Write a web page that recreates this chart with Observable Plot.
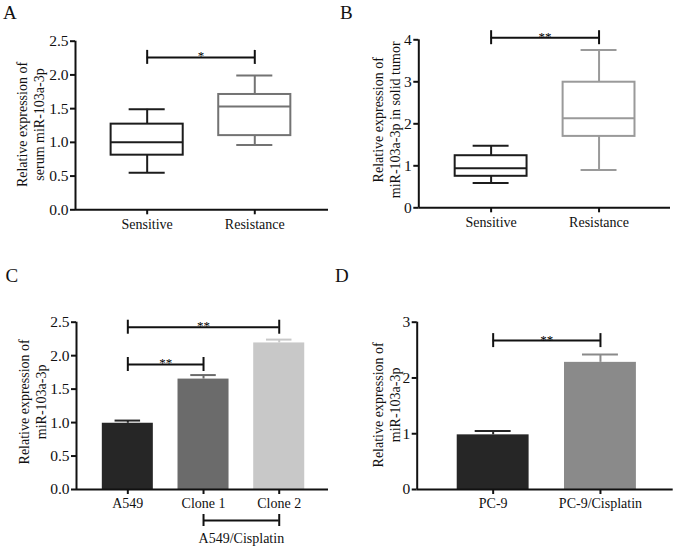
<!DOCTYPE html>
<html><head><meta charset="utf-8">
<script src="https://cdn.jsdelivr.net/npm/d3@7"></script>
<script src="https://cdn.jsdelivr.net/npm/@observablehq/plot@0.6"></script>
<style>
body{margin:0;background:#fff;}
#fig{position:relative;width:677px;height:548px;font-family:'Liberation Serif','Times New Roman',serif;overflow:hidden;}
.panel{position:absolute;}
.letter{position:absolute;font-size:19px;line-height:1;color:#111;}
</style></head><body><div id="fig"></div>
<script>
// ---------- Panel A (serum) ----------
const catsAB = ["Sensitive", "Resistance"];
const aMin = [0.55, 0.96];
const aQ1 = [0.81, 1.10];
const aMed = [1.00, 1.53];
const aQ3 = [1.27, 1.71];
const aMax = [1.49, 1.99];
const aColors = ["#1c1c1c", "#737373"];
const aTicks = [0, 0.5, 1.0, 1.5, 2.0, 2.5];
const aSig = [{x1: 0, x2: 1, y: 2.26, label: "*"}];

// ---------- Panel B (solid tumor) ----------
const bMin = [0.59, 0.90];
const bQ1 = [0.75, 1.70];
const bMed = [0.94, 2.13];
const bQ3 = [1.24, 2.99];
const bMax = [1.48, 3.76];
const bColors = ["#1c1c1c", "#9a9a9a"];
const bTicks = [0, 1, 2, 3, 4];
const bSig = [{x1: 0, x2: 1, y: 4.05, label: "**"}];

// ---------- Panel C (A549 lines) ----------
const catsC = ["A549", "Clone 1", "Clone 2"];
const cMean = [0.99, 1.65, 2.19];
const cErr = [0.04, 0.06, 0.05];
const cColors = ["#262626", "#6b6b6b", "#c8c8c8"];
const cTicks = [0, 0.5, 1.0, 1.5, 2.0, 2.5];
const cSig = [{x1: 0, x2: 2, y: 2.425, label: "**"}, {x1: 0, x2: 1, y: 1.868, label: "**"}];
const cGroup = [{x1: 1, x2: 2, label: "A549/Cisplatin"}];

// ---------- Panel D (PC-9 lines) ----------
const catsD = ["PC-9", "PC-9/Cisplatin"];
const dMean = [0.98, 2.28];
const dErr = [0.07, 0.14];
const dColors = ["#262626", "#8a8a8a"];
const dTicks = [0, 1, 2, 3];
const dSig = [{x1: 0, x2: 1, y: 2.67, label: "**"}];

const FONT = "'Liberation Serif','Times New Roman',serif";

function frameMarks(o) {
  return [
    Plot.axisY({ticks: o.yTicks, tickFormat: o.fmt, tickSize: 5, tickPadding: 2, strokeWidth: 2, fontSize: 15.5, label: null}),
    Plot.axisX({ticks: o.cats.map((c, i) => i), tickFormat: i => o.cats[i], tickSize: 5, tickPadding: 4, strokeWidth: 2, fontSize: 14, label: null}),
    Plot.ruleY([0], {stroke: "#111", strokeWidth: 2}),
    Plot.ruleX([o.xDomain[0]], {y1: 0, y2: o.yDomain[1], stroke: "#111", strokeWidth: 2}),
    Plot.ruleY(o.sig, {y: "y", x1: "x1", x2: "x2", stroke: "#111", strokeWidth: 2}),
    Plot.ruleX(o.sig, {x: "x1", y1: "y", y2: "y", insetTop: -7, insetBottom: -7, stroke: "#111", strokeWidth: 2}),
    Plot.ruleX(o.sig, {x: "x2", y1: "y", y2: "y", insetTop: -7, insetBottom: -7, stroke: "#111", strokeWidth: 2}),
    Plot.text(o.sig, {x: d => (d.x1 + d.x2) / 2, y: "y", text: "label", lineAnchor: "bottom", dy: 3, fontSize: 13, fill: "black"}),
    Plot.text([o.title], {frameAnchor: "left", textAnchor: "middle", lineAnchor: "middle", rotate: -90, dx: o.titleDx, dy: o.titleDy || 0, lineHeight: 1.2, fontSize: 14, fill: "#111"})
  ];
}

function boxPlot(o) {
  const rows = o.cats.map((c, i) => ({i, min: o.mins[i], q1: o.q1s[i], med: o.meds[i], q3: o.q3s[i], max: o.maxs[i], color: o.colors[i]}));
  const bh = o.boxHalf, ch = o.boxHalf / 2;
  return Plot.plot({
    width: o.width, height: o.height,
    marginLeft: o.ml, marginRight: o.mr, marginTop: o.mt, marginBottom: o.mb,
    x: {type: "linear", domain: o.xDomain, axis: null},
    y: {domain: o.yDomain, axis: null},
    style: {fontFamily: FONT, fontSize: "14px", background: "transparent", color: "#111"},
    marks: [
      Plot.ruleX(rows, {x: "i", y1: "min", y2: "q1", stroke: "color", strokeWidth: 2}),
      Plot.ruleX(rows, {x: "i", y1: "q3", y2: "max", stroke: "color", strokeWidth: 2}),
      Plot.ruleY(rows, {y: "min", x1: d => d.i - ch, x2: d => d.i + ch, stroke: "color", strokeWidth: 2}),
      Plot.ruleY(rows, {y: "max", x1: d => d.i - ch, x2: d => d.i + ch, stroke: "color", strokeWidth: 2}),
      Plot.rectY(rows, {x1: d => d.i - bh, x2: d => d.i + bh, y1: "q1", y2: "q3", fill: "white", stroke: "color", strokeWidth: 2}),
      Plot.ruleY(rows, {y: "med", x1: d => d.i - bh, x2: d => d.i + bh, stroke: "color", strokeWidth: 2}),
      ...frameMarks(o)
    ]
  });
}

function barPlot(o) {
  const rows = o.cats.map((c, i) => ({i, mean: o.means[i], top: o.means[i] + o.errs[i], color: o.colors[i]}));
  const bh = o.boxHalf, ch = o.boxHalf / 2;
  const extra = [];
  if (o.group) {
    extra.push(
      Plot.ruleY(o.group, {y: () => 0, x1: "x1", x2: "x2", dy: 31, stroke: "#111", strokeWidth: 2}),
      Plot.ruleX(o.group, {x: "x1", y1: () => 0, y2: () => 0, dy: 31, insetTop: -6, insetBottom: -6, stroke: "#111", strokeWidth: 2}),
      Plot.ruleX(o.group, {x: "x2", y1: () => 0, y2: () => 0, dy: 31, insetTop: -6, insetBottom: -6, stroke: "#111", strokeWidth: 2}),
      Plot.text(o.group, {x: d => (d.x1 + d.x2) / 2, y: () => 0, text: "label", lineAnchor: "bottom", dy: 53, fontSize: 14, fill: "#111"})
    );
  }
  return Plot.plot({
    width: o.width, height: o.height,
    marginLeft: o.ml, marginRight: o.mr, marginTop: o.mt, marginBottom: o.mb,
    x: {type: "linear", domain: o.xDomain, axis: null},
    y: {domain: o.yDomain, axis: null},
    style: {fontFamily: FONT, fontSize: "14px", background: "transparent", color: "#111"},
    marks: [
      Plot.ruleX(rows, {x: "i", y1: "mean", y2: "top", stroke: "color", strokeWidth: 2}),
      Plot.ruleY(rows, {y: "top", x1: d => d.i - ch, x2: d => d.i + ch, stroke: "color", strokeWidth: 2}),
      Plot.rectY(rows, {x1: d => d.i - bh, x2: d => d.i + bh, y1: 0, y2: "mean", fill: "color"}),
      ...extra,
      ...frameMarks(o)
    ]
  });
}

const fig = document.getElementById("fig");
function place(node, left, top) {
  const d = document.createElement("div");
  d.className = "panel";
  d.style.left = left + "px";
  d.style.top = top + "px";
  d.appendChild(node);
  fig.appendChild(d);
}
function letter(t, left, top) {
  const d = document.createElement("div");
  d.className = "letter";
  d.style.left = left + "px";
  d.style.top = top + "px";
  d.textContent = t;
  fig.appendChild(d);
}

const f1 = d3.format(".1f");

place(boxPlot({
  cats: catsAB, mins: aMin, q1s: aQ1, meds: aMed, q3s: aQ3, maxs: aMax, colors: aColors,
  yDomain: [0, 2.5], yTicks: aTicks, fmt: f1, xDomain: [-0.666, 1.685], boxHalf: 0.335,
  width: 340, height: 250, ml: 75, mr: 12, mt: 40.7, mb: 40.7,
  sig: aSig, title: "Relative expression of\nserum miR-103a-3p", titleDx: -45, titleDy: -1
}), 0, 0);

place(boxPlot({
  cats: catsAB, mins: bMin, q1s: bQ1, meds: bMed, q3s: bQ3, maxs: bMax, colors: bColors,
  yDomain: [0, 4], yTicks: bTicks, fmt: d3.format("d"), xDomain: [-0.670, 1.662], boxHalf: 0.333,
  width: 337, height: 250, ml: 78.3, mr: 7, mt: 39.3, mb: 42.7,
  sig: bSig, title: "Relative expression of\nmiR-103a-3p in solid tumor", titleDx: -33, titleDy: -4
}), 340, 0);

place(barPlot({
  cats: catsC, means: cMean, errs: cErr, colors: cColors,
  yDomain: [0, 2.5], yTicks: cTicks, fmt: f1, xDomain: [-0.678, 2.651], boxHalf: 0.337,
  width: 340, height: 278, ml: 76, mr: 12, mt: 51.7, mb: 59,
  sig: cSig, group: cGroup, title: "Relative expression of\nmiR-103a-3p", titleDx: -44.5, titleDy: -4
}), 0, 270);

place(barPlot({
  cats: catsD, means: dMean, errs: dErr, colors: dColors,
  yDomain: [0, 3], yTicks: dTicks, fmt: d3.format("d"), xDomain: [-0.708, 1.678], boxHalf: 0.335,
  width: 337, height: 278, ml: 76.7, mr: 4.3, mt: 51.7, mb: 59,
  sig: dSig, title: "Relative expression of\nmiR-103a-3p", titleDx: -31, titleDy: -1
}), 340, 270);

letter("A", 3, 2.5);
letter("B", 340, 2.5);
letter("C", 5.5, 266);
letter("D", 335, 266);
</script>
</body></html>
